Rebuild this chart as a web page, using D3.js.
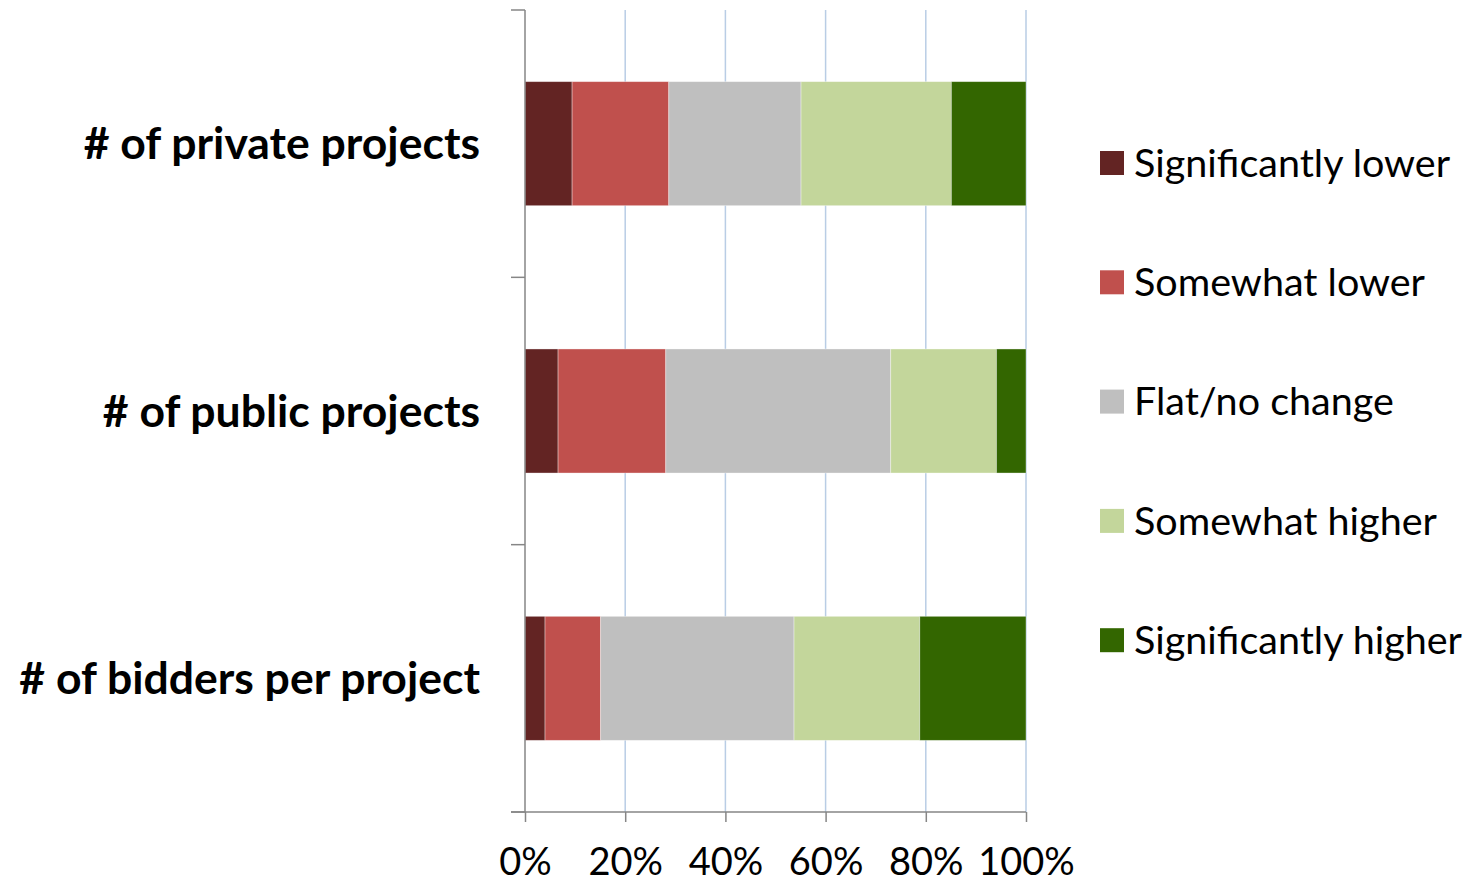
<!DOCTYPE html>
<html>
<head>
<meta charset="utf-8">
<script src="https://cdn.jsdelivr.net/npm/d3@7/dist/d3.min.js"></script>
<style>
  html, body { margin: 0; padding: 0; background: #ffffff; }
  svg { display: block; }
</style>
</head>
<body>
<svg id="chart" width="1468" height="885"></svg>
<script>
// Survey categories (top to bottom)
const categories = ["# of private projects", "# of public projects", "# of bidders per project"];

// Response shares (%) per series, in category order
const seriesNames = ["Significantly lower", "Somewhat lower", "Flat/no change", "Somewhat higher", "Significantly higher"];
const significantlyLower  = [9.4, 6.6, 4.0];
const somewhatLower       = [19.3, 21.5, 11.1];
const flatNoChange        = [26.4, 44.9, 38.6];
const somewhatHigher      = [30.0, 21.1, 25.1];
const significantlyHigher = [14.9, 5.9, 21.2];

const tickValues = [0, 20, 40, 60, 80, 100];
const tickLabels = ["0%", "20%", "40%", "60%", "80%", "100%"];

const colors = ["#632423", "#c0504d", "#bfbfbf", "#c3d69b", "#336600"];

const seriesValues = [significantlyLower, somewhatLower, flatNoChange, somewhatHigher, significantlyHigher];
const rows = categories.map((c, i) => {
  const r = { category: c };
  seriesNames.forEach((s, j) => { r[s] = seriesValues[j][i]; });
  return r;
});

const svg = d3.select("#chart");
const plot = { left: 525, right: 1026, top: 10, bottom: 812 };

const x = d3.scaleLinear().domain([0, 100]).range([plot.left, plot.right]);
const y = d3.scaleBand().domain(categories).range([plot.top, plot.bottom]).paddingInner(0.536).paddingOuter(0.268);
const yOuter = d3.scaleBand().domain(categories).range([plot.top, plot.bottom]);

const fontFamily = "Lato, 'Open Sans', sans-serif";

// Vertical gridlines
svg.append("g")
  .selectAll("line")
  .data(tickValues.slice(1))
  .join("line")
  .attr("x1", d => x(d)).attr("x2", d => x(d))
  .attr("y1", plot.top).attr("y2", plot.bottom)
  .attr("stroke", "#b9cde5")
  .attr("stroke-width", 1.5);

// Stacked bars
const stack = d3.stack().keys(seriesNames)(rows);
svg.append("g")
  .selectAll("g")
  .data(stack)
  .join("g")
  .attr("fill", (d, i) => colors[i])
  .selectAll("rect")
  .data(d => d)
  .join("rect")
  .attr("x", d => x(d[0]))
  .attr("width", d => x(d[1]) - x(d[0]))
  .attr("y", d => y(d.data.category))
  .attr("height", y.bandwidth())
  .attr("stroke", "#ffffff")
  .attr("stroke-opacity", 0.45)
  .attr("stroke-width", 0.8);

// Category axis (left) with tick marks at band edges
const axisColor = "#868686";
const yAxisG = svg.append("g");
yAxisG.append("line")
  .attr("x1", plot.left).attr("x2", plot.left)
  .attr("y1", plot.top).attr("y2", plot.bottom)
  .attr("stroke", axisColor).attr("stroke-width", 1.5);
const bandEdges = categories.map(c => yOuter(c)).concat([plot.bottom]);
yAxisG.selectAll("line.tick")
  .data(bandEdges)
  .join("line")
  .attr("class", "tick")
  .attr("x1", plot.left - 14).attr("x2", plot.left)
  .attr("y1", d => d).attr("y2", d => d)
  .attr("stroke", axisColor).attr("stroke-width", 1.5);

yAxisG.selectAll("text")
  .data(categories)
  .join("text")
  .attr("x", 480)
  .attr("y", c => yOuter(c) + yOuter.bandwidth() / 2)
  .attr("dy", "0.35em")
  .attr("text-anchor", "end")
  .attr("font-family", fontFamily)
  .attr("font-weight", "bold")
  .attr("font-size", 44.5)
  .attr("fill", "#000")
  .text(d => d);

// Value axis (bottom)
const xAxis = d3.axisBottom(x)
  .tickValues(tickValues)
  .tickFormat((d, i) => tickLabels[i])
  .tickSize(10)
  .tickSizeOuter(0)
  .tickPadding(26);
const xAxisG = svg.append("g")
  .attr("transform", `translate(0,${plot.bottom})`)
  .call(xAxis);
xAxisG.select(".domain").remove();
xAxisG.append("line")
  .attr("x1", plot.left - 14).attr("x2", plot.right)
  .attr("y1", 0).attr("y2", 0)
  .attr("stroke", axisColor).attr("stroke-width", 1.5);
xAxisG.selectAll(".tick line").attr("stroke", axisColor).attr("stroke-width", 1.5);
xAxisG.selectAll(".tick text")
  .attr("font-family", fontFamily)
  .attr("font-size", 38)
  .attr("fill", "#000");

// Legend
const legend = svg.append("g");
const legendItems = legend.selectAll("g")
  .data(seriesNames)
  .join("g")
  .attr("transform", (d, i) => `translate(1100,${163 + i * 119.3})`);
legendItems.append("rect")
  .attr("x", 0).attr("y", -12)
  .attr("width", 24).attr("height", 24)
  .attr("fill", (d, i) => colors[i]);
legendItems.append("text")
  .attr("x", 34).attr("y", 0)
  .attr("dy", "0.35em")
  .attr("font-family", fontFamily)
  .attr("font-size", 39.5)
  .attr("fill", "#000")
  .text(d => d);
</script>
</body>
</html>
